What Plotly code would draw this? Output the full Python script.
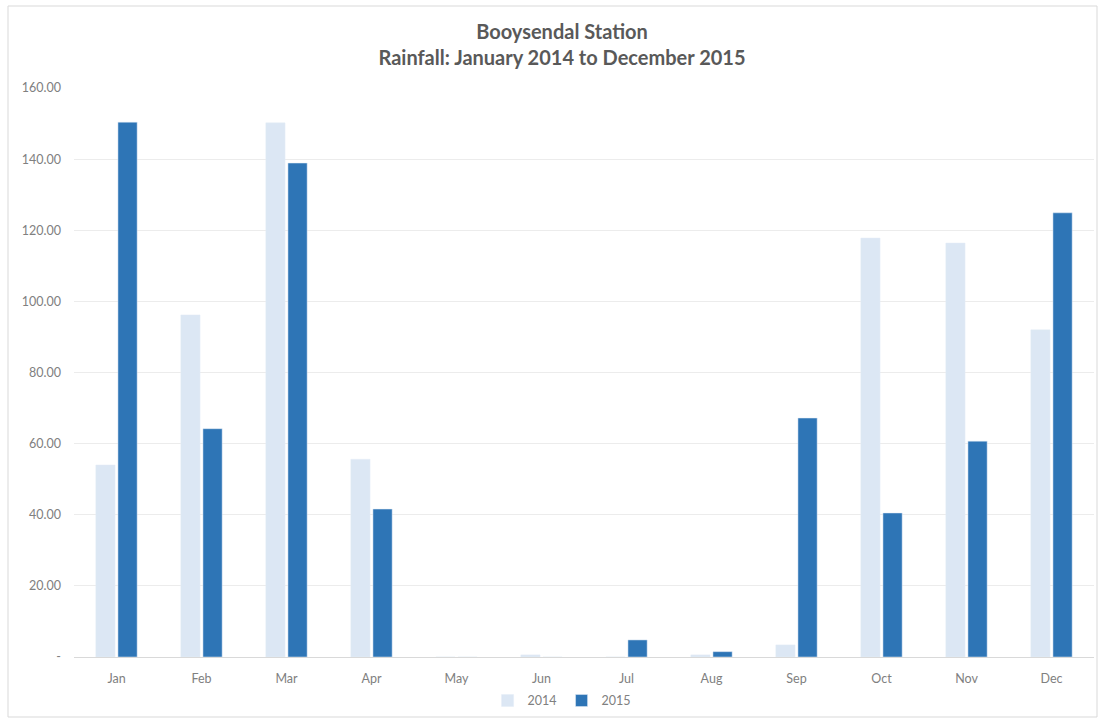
import plotly.graph_objects as go

months = ["Jan", "Feb", "Mar", "Apr", "May", "Jun", "Jul", "Aug", "Sep", "Oct", "Nov", "Dec"]
rain_2014 = [54.0, 96.2, 150.2, 55.6, 0.0, 0.6, 0.0, 0.6, 3.4, 117.8, 116.4, 92.0]
rain_2015 = [150.4, 64.2, 138.9, 41.6, 0.0, 0.0, 4.8, 1.5, 67.2, 40.5, 60.7, 124.9]
y_ticks = [0, 20, 40, 60, 80, 100, 120, 140, 160]
y_tick_labels = ["-", "20.00", "40.00", "60.00", "80.00", "100.00", "120.00", "140.00", "160.00"]

W, H = 1102, 722
ML, MR, MT, MB = 74, 8, 88, 65
font = "Lato, 'Open Sans', sans-serif"
grey = "#808080"

fig = go.Figure()
fig.add_trace(go.Bar(x=months, y=rain_2014, name="2014", marker_color="#dce7f4"))
fig.add_trace(go.Bar(x=months, y=rain_2015, name="2015", marker_color="#2e75b6"))

pw = W - ML - MR
ph = H - MT - MB
# light frame around the whole chart
fig.add_shape(type="rect", xref="paper", yref="paper",
              x0=(8 - ML) / pw, x1=(1097 - ML) / pw,
              y0=(H - MB - 717) / ph, y1=(H - MB - 6) / ph,
              line=dict(color="#d9d9d9", width=1), fillcolor="rgba(0,0,0,0)", layer="below")

fig.update_layout(
    width=W, height=H,
    margin=dict(l=ML, r=MR, t=MT, b=MB, autoexpand=False),
    paper_bgcolor="white", plot_bgcolor="white",
    barmode="group", bargap=0.48, bargroupgap=0.13,
    title=dict(
        text="<b>Booysendal Station</b><br><b>Rainfall: January 2014 to December 2015</b>",
        x=0.51, xanchor="center", y=0.946, yanchor="top",
        font=dict(family=font, size=20, color="#595959"),
    ),
    xaxis=dict(
        showgrid=False, showline=True, linecolor="#d9d9d9", linewidth=1,
        ticks="", ticklabelstandoff=10, tickfont=dict(family=font, size=12.5, color=grey),
    ),
    yaxis=dict(
        range=[0, 160], tickvals=y_ticks, ticktext=y_tick_labels,
        showgrid=True, gridcolor="#ececec", gridwidth=1, zeroline=False,
        ticks="", ticklabelstandoff=12,
        tickfont=dict(family=font, size=12.5, color=grey),
    ),
    legend=dict(
        orientation="h", x=0.478, xanchor="center",
        yref="container", y=0.05, yanchor="top",
        font=dict(family=font, size=12.5, color=grey),
        itemwidth=30, traceorder="normal",
    ),
    showlegend=True,
)

fig.write_html("out.html")
